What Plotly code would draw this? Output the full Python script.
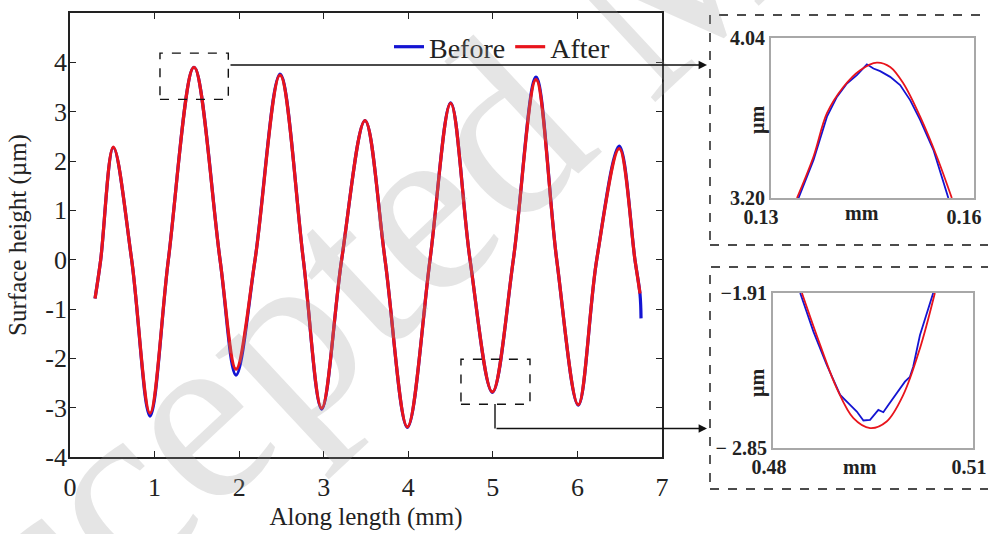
import plotly.graph_objects as go

# ---------------- data ----------------
# main profile (mm, µm)
x_after = [0.296, 0.363, 0.512, 0.729, 0.946, 1.163, 1.466, 1.774, 1.963, 2.188,
           2.483, 2.759, 2.976, 3.212, 3.488, 3.725, 3.989, 4.257, 4.501, 4.730,
           4.994, 5.242, 5.510, 5.755, 6.010, 6.228, 6.495, 6.680, 6.740]
h_after = [-0.786, 0.0, 2.28, 0.0, -3.11, 0.0, 3.90, 0.0, -2.22, 0.0,
           3.74, 0.0, -3.01, 0.0, 2.82, 0.0, -3.39, 0.0, 3.17, 0.0,
           -2.68, 0.0, 3.65, 0.0, -2.94, 0.0, 2.25, 0.0, -0.685]
x_before = [0.296, 0.363, 0.512, 0.729, 0.946, 1.163, 1.466, 1.774, 1.963, 2.188,
            2.483, 2.759, 2.976, 3.212, 3.488, 3.725, 3.989, 4.257, 4.501, 4.730,
            4.994, 5.242, 5.510, 5.755, 6.010, 6.228, 6.495, 6.680, 6.740, 6.752]
h_before = [-0.786, 0.0, 2.27, 0.0, -3.17, 0.0, 3.90, 0.0, -2.34, 0.0,
            3.76, 0.0, -3.03, 0.0, 2.82, 0.0, -3.40, 0.0, 3.18, 0.0,
            -2.69, 0.0, 3.70, 0.0, -2.95, 0.0, 2.30, 0.0, -0.70, -1.19]

# zoom near the peak (inset 1)
z1_x_before = [0.13407, 0.13629, 0.13827, 0.13974, 0.14122, 0.14269, 0.14417, 0.14514,
               0.14613, 0.14761, 0.14908, 0.15056, 0.15204, 0.15400, 0.15621]
z1_before = [3.200, 3.400, 3.627, 3.731, 3.801, 3.845, 3.902, 3.880,
             3.866, 3.836, 3.793, 3.714, 3.610, 3.453, 3.200]
z1_x_after = [0.13384, 0.13629, 0.13827, 0.14072, 0.14318, 0.14565, 0.14761,
              0.14957, 0.15204, 0.15450, 0.15672]
z1_after = [3.200, 3.418, 3.645, 3.784, 3.871, 3.911, 3.888, 3.801, 3.627, 3.418, 3.200]

# zoom near the valley (inset 2)
z2_x_before = [0.48408, 0.48608, 0.48808, 0.49007, 0.49156, 0.49257, 0.49356, 0.49456,
               0.49580, 0.49655, 0.49730, 0.49855, 0.49979, 0.50054, 0.50103, 0.50204,
               0.50304, 0.50403]
z2_before = [-1.910, -2.146, -2.347, -2.528, -2.589, -2.629, -2.683, -2.679,
             -2.619, -2.633, -2.589, -2.518, -2.448, -2.418, -2.357, -2.166,
             -2.034, -1.910]
z2_x_after = [0.48434, 0.48708, 0.48957, 0.49206, 0.49456, 0.49705, 0.49954, 0.50204, 0.50428]
z2_after = [-1.910, -2.226, -2.488, -2.669, -2.729, -2.689, -2.528, -2.246, -1.910]

x_ticks = [0, 1, 2, 3, 4, 5, 6, 7]
y_ticks = [-4, -3, -2, -1, 0, 1, 2, 3, 4]
y_ticktext = ["-4", "-3", "-2", "-1", "0", "1", "2", "3", "4"]

BLUE = "#1414d2"
RED = "#e8141c"
SERIF = "Liberation Serif"

W, H = 988, 534


def px(xp):
    return xp / W


def py(yp):
    return 1 - yp / H


fig = go.Figure()
fig.add_trace(go.Scatter(x=x_before, y=h_before, mode="lines", name="Before",
                         line=dict(color=BLUE, width=3.2, shape="spline", smoothing=1.0)))
fig.add_trace(go.Scatter(x=x_after, y=h_after, mode="lines", name="After",
                         line=dict(color=RED, width=3.2, shape="spline", smoothing=1.0)))
fig.add_trace(go.Scatter(x=z1_x_before, y=z1_before, mode="lines", showlegend=False,
                         xaxis="x2", yaxis="y2", line=dict(color=BLUE, width=1.8)))
fig.add_trace(go.Scatter(x=z1_x_after, y=z1_after, mode="lines", showlegend=False,
                         xaxis="x2", yaxis="y2",
                         line=dict(color=RED, width=1.8, shape="spline", smoothing=1.0)))
fig.add_trace(go.Scatter(x=z2_x_before, y=z2_before, mode="lines", showlegend=False,
                         xaxis="x3", yaxis="y3", line=dict(color=BLUE, width=1.8)))
fig.add_trace(go.Scatter(x=z2_x_after, y=z2_after, mode="lines", showlegend=False,
                         xaxis="x3", yaxis="y3",
                         line=dict(color=RED, width=1.8, shape="spline", smoothing=1.0)))

main_axis = dict(showline=True, linecolor="#222", linewidth=1.6, mirror="allticks",
                 ticks="inside", ticklen=6, tickwidth=1.3, tickcolor="#222",
                 showgrid=False, zeroline=False, automargin=False,
                 tickfont=dict(family=SERIF, size=26, color="#222"))
inset_axis = dict(showline=True, linecolor="#a8a8a8", linewidth=2, mirror=True,
                  ticks="", showgrid=False, zeroline=False, automargin=False,
                  tickfont=dict(family=SERIF, size=20, color="#222", weight="bold"))

fig.update_layout(
    width=W, height=H, margin=dict(l=0, r=0, t=0, b=0, autoexpand=False),
    paper_bgcolor="white", plot_bgcolor="white",
    font=dict(family=SERIF, color="#222"),
    xaxis=dict(main_axis, domain=[px(70), px(662)], range=[0, 7], tickvals=x_ticks,
               ticklabelstandoff=6,
               title=dict(text="Along length (mm)", font=dict(family=SERIF, size=25),
                          standoff=6)),
    yaxis=dict(main_axis, domain=[py(457), py(13)], range=[-4, 5], tickvals=y_ticks,
               ticktext=y_ticktext, ticklabelstandoff=-4,
               title=dict(text="Surface height (µm)", font=dict(family=SERIF, size=25),
                          standoff=12)),
    xaxis2=dict(inset_axis, domain=[px(771), px(974)], range=[0.13, 0.16],
                tickvals=[0.13, 0.16], ticktext=["0.13", "0.16"], anchor="y2",
                ticklabelshift=-10),
    yaxis2=dict(inset_axis, domain=[py(198), py(38)], range=[3.20, 4.04],
                tickvals=[3.20, 4.04], ticktext=["3.20", "4.04"], anchor="x2"),
    xaxis3=dict(inset_axis, domain=[px(773), px(973)], range=[0.48, 0.51],
                tickvals=[0.48, 0.51], ticktext=["0.48", "0.51"], anchor="y3",
                ticklabelshift=-4),
    yaxis3=dict(inset_axis, domain=[py(448), py(293)], range=[-2.85, -1.91],
                tickvals=[-2.85, -1.91], ticktext=["\u2212 2.85", "\u22121.91"], anchor="x3"),
    showlegend=True,
    legend=dict(orientation="h", x=px(389), y=py(47), xanchor="left", yanchor="middle",
                bgcolor="rgba(0,0,0,0)", font=dict(family=SERIF, size=28, color="#222"),
                itemwidth=30, tracegroupgap=0),
)

shapes = [
    # dashed zoom windows in the main plot
    dict(type="rect", xref="x", yref="y", x0=1.064, x1=1.872, y0=3.249, y1=4.186,
         line=dict(color="#111", width=1.4, dash="dash")),
    dict(type="rect", xref="x", yref="y", x0=4.623, x1=5.439, y0=-2.93, y1=-2.02,
         line=dict(color="#111", width=1.4, dash="dash")),
    # dashed frames round the insets
    dict(type="rect", xref="paper", yref="paper", x0=px(710), x1=px(1000),
         y0=py(245), y1=py(15), line=dict(color="#111", width=1.4, dash="dash")),
    dict(type="rect", xref="paper", yref="paper", x0=px(710), x1=px(1000),
         y0=py(489), y1=py(267), line=dict(color="#111", width=1.4, dash="dash")),
    # connector (vertical part)
    dict(type="line", xref="paper", yref="paper", x0=px(495), x1=px(495),
         y0=py(404), y1=py(428.5), line=dict(color="#111", width=1.4)),
]
fig.update_layout(shapes=shapes)

annotations = [
    # watermark
    dict(text="Accepted Manuscript", xref="paper", yref="paper", x=px(640), y=py(0),
         xanchor="center", yanchor="middle", showarrow=False, textangle=-43,
         font=dict(family=SERIF, size=250, color="rgba(150,150,150,0.25)")),
    # connector arrows
    dict(xref="paper", yref="paper", x=px(707), y=py(65), ax=-478, ay=0, text="",
         showarrow=True, arrowhead=2, arrowsize=1.2, arrowwidth=1.4, arrowcolor="#111",
         standoff=0),
    dict(xref="paper", yref="paper", x=px(707), y=py(428.5), ax=-212, ay=0, text="",
         showarrow=True, arrowhead=2, arrowsize=1.2, arrowwidth=1.4, arrowcolor="#111",
         standoff=0),
    # inset axis labels
    dict(text="mm", xref="paper", yref="paper", x=px(862), y=py(213), showarrow=False,
         xanchor="center", yanchor="middle",
         font=dict(family=SERIF, size=20, color="#222", weight="bold")),
    dict(text="µm", xref="paper", yref="paper", x=px(757), y=py(120), showarrow=False,
         xanchor="center", yanchor="middle", textangle=-90,
         font=dict(family=SERIF, size=20, color="#222", weight="bold")),
    dict(text="mm", xref="paper", yref="paper", x=px(860), y=py(467), showarrow=False,
         xanchor="center", yanchor="middle",
         font=dict(family=SERIF, size=20, color="#222", weight="bold")),
    dict(text="µm", xref="paper", yref="paper", x=px(757), y=py(383), showarrow=False,
         xanchor="center", yanchor="middle", textangle=-90,
         font=dict(family=SERIF, size=20, color="#222", weight="bold")),
]
fig.update_layout(annotations=annotations)

fig.write_html("out.html")
